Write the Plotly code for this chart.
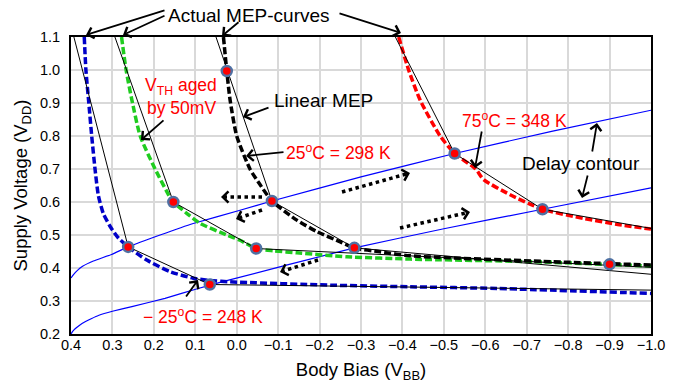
import plotly.graph_objects as go

# ---------------- data ----------------
blue_x = [0.368, 0.364, 0.357, 0.350, 0.342, 0.334, 0.322, 0.305, 0.285, 0.262, 0.217, 0.161, 0.105, 0.065, 0.016, -0.226, -0.419, -0.628, -1.0]
blue_y = [1.10, 1.00, 0.90, 0.80, 0.70, 0.62, 0.565, 0.525, 0.49, 0.464, 0.424, 0.389, 0.369, 0.362, 0.358, 0.348, 0.343, 0.338, 0.323]

green_x = [0.278, 0.267, 0.253, 0.233, 0.197, 0.161, 0.153, 0.120, 0.088, 0.024, -0.008, -0.047, -0.090, -0.145, -0.266, -0.419, -0.717, -1.0]
green_y = [1.10, 1.00, 0.909, 0.80, 0.70, 0.614, 0.600, 0.565, 0.535, 0.500, 0.484, 0.459, 0.452, 0.446, 0.434, 0.427, 0.419, 0.406]

black_x = [0.032, 0.024, 0.016, 0.0, -0.032, -0.055, -0.085, -0.145, -0.194, -0.250, -0.284, -0.346, -0.419, -0.717, -1.0]
black_y = [1.10, 0.997, 0.909, 0.80, 0.70, 0.655, 0.603, 0.545, 0.510, 0.479, 0.461, 0.449, 0.437, 0.421, 0.409]

red_x = [-0.391, -0.415, -0.443, -0.491, -0.526, -0.576, -0.596, -0.660, -0.738, -0.838, -0.920, -1.0]
red_y = [1.10, 1.00, 0.908, 0.80, 0.747, 0.701, 0.668, 0.622, 0.578, 0.550, 0.532, 0.518]

# linear MEP approximations
lin_blue_x = [0.393, 0.262, 0.065, -1.0]
lin_blue_y = [1.10, 0.464, 0.350, 0.333]
lin_green_x = [0.294, 0.153, -0.047, -1.0]
lin_green_y = [1.10, 0.600, 0.459, 0.402]
lin_black_x = [0.050, -0.085, -0.284, -1.0]
lin_black_y = [1.10, 0.603, 0.461, 0.381]
lin_red_x = [-0.383, -0.526, -0.738, -1.0]
lin_red_y = [1.10, 0.747, 0.578, 0.520]

# delay contours
delay_hi_x = [0.400, 0.394, 0.385, 0.372, 0.346, 0.302, 0.262, 0.185, 0.105, -0.008, -0.085, -0.300, -0.526, -0.760, -1.0]
delay_hi_y = [0.370, 0.380, 0.392, 0.405, 0.421, 0.441, 0.464, 0.500, 0.535, 0.575, 0.603, 0.676, 0.747, 0.814, 0.878]
delay_lo_x = [0.400, 0.396, 0.390, 0.380, 0.366, 0.350, 0.334, 0.300, 0.253, 0.173, 0.093, 0.036, -0.284, -0.500, -0.738, -1.0]
delay_lo_y = [0.200, 0.208, 0.216, 0.226, 0.237, 0.247, 0.256, 0.269, 0.283, 0.308, 0.338, 0.358, 0.461, 0.519, 0.578, 0.643]

# operating points
pt_x = [0.262, 0.065, 0.153, -0.047, -0.900, 0.024, -0.085, -0.284, -0.526, -0.738]
pt_y = [0.464, 0.350, 0.600, 0.459, 0.411, 0.997, 0.603, 0.461, 0.747, 0.578]

tick_vals_x = [0.4, 0.3, 0.2, 0.1, 0.0, -0.1, -0.2, -0.3, -0.4, -0.5, -0.6, -0.7, -0.8, -0.9, -1.0]
tick_vals_y = [0.2, 0.3, 0.4, 0.5, 0.6, 0.7, 0.8, 0.9, 1.0, 1.1]

# ---------------- layout helpers (pixel -> paper) ----------------
L, R, T, B = 71, 651, 37, 334
def PX(px):
    return (px - L) / (R - L)
def PY(py):
    return 1 - (py - T) / (B - T)

FONT = "Liberation Sans, Arial, sans-serif"
RED = "#ff0000"

fig = go.Figure()

def dashed(x, y, color):
    fig.add_trace(go.Scatter(x=x, y=y, mode="lines",
                             line=dict(color=color, width=3.5, dash="7px,3px", shape="spline", smoothing=0.6),
                             hoverinfo="skip", showlegend=False))

def thin(x, y, color="black", width=1):
    fig.add_trace(go.Scatter(x=x, y=y, mode="lines", line=dict(color=color, width=width),
                             hoverinfo="skip", showlegend=False))

def smooth(x, y, color="#0000ff", width=1.2):
    fig.add_trace(go.Scatter(x=x, y=y, mode="lines",
                             line=dict(color=color, width=width, shape="spline", smoothing=0.3),
                             hoverinfo="skip", showlegend=False))

smooth(delay_hi_x, delay_hi_y)
smooth(delay_lo_x, delay_lo_y)

dashed(blue_x, blue_y, "#0000c8")
dashed(green_x, green_y, "#1fcc1f")
dashed(black_x, black_y, "#000000")
dashed(red_x, red_y, "#ff0000")

thin(lin_blue_x, lin_blue_y)
thin(lin_green_x, lin_green_y)
thin(lin_black_x, lin_black_y)
thin(lin_red_x, lin_red_y)

fig.add_trace(go.Scatter(x=pt_x, y=pt_y, mode="markers",
                         marker=dict(color=RED, size=10, line=dict(color="#4f71a3", width=2.5)),
                         hoverinfo="skip", showlegend=False))

annotations = []

def arrow(tx, ty, hx, hy, w=1.8):
    annotations.append(dict(x=PX(hx), y=PY(hy), xref="paper", yref="paper",
                            ax=tx - hx, ay=ty - hy, axref="pixel", ayref="pixel",
                            text="", showarrow=True, arrowhead=4, arrowsize=1.2,
                            arrowwidth=w, arrowcolor="black"))

def label(cx, cy, text, color="black", size=19):
    annotations.append(dict(x=PX(cx), y=PY(cy), xref="paper", yref="paper", text=text, showarrow=False,
                            font=dict(family=FONT, size=size, color=color),
                            xanchor="center", yanchor="middle"))

# plain arrows (tail -> head)
arrow(166, 10, 86, 35)
arrow(166, 15, 123, 35)
arrow(240, 21, 222, 36)
arrow(338, 13, 401, 33)
arrow(165, 119, 141, 140)
arrow(270, 107, 243, 117)
arrow(285, 152, 246, 156)
arrow(482, 130, 475, 168)
arrow(592, 153, 597, 123)
arrow(588, 174, 582, 198)
arrow(185, 298, 198, 280)

# dotted arrows
shapes = []
dotted = [(262, 197, 221, 197), (262, 210, 236, 219), (318, 260, 280, 272),
          (342, 192, 410, 173), (400, 228, 470, 212)]
for (x0, y0, x1, y1) in dotted:
    dx, dy = x1 - x0, y1 - y0
    n = (dx * dx + dy * dy) ** 0.5
    ux, uy = dx / n, dy / n
    shapes.append(dict(type="line", xref="paper", yref="paper", x0=PX(x0), y0=PY(y0),
                       x1=PX(x1 - ux * 4), y1=PY(y1 - uy * 4),
                       line=dict(color="black", width=3.5, dash="dot")))
    annotations.append(dict(x=PX(x1), y=PY(y1), xref="paper", yref="paper",
                            ax=-ux * 6, ay=-uy * 6, axref="pixel", ayref="pixel",
                            text="", showarrow=True, arrowhead=4, arrowsize=1.0,
                            arrowwidth=2.2, arrowcolor="black"))

# labels
label(249, 16, "Actual MEP-curves", size=19)
label(181, 86, "V<sub>TH</sub> aged", RED, 17.5)
label(181, 108, "by 50mV", RED, 17.5)
label(323, 100, "Linear MEP", size=19)
label(338, 152, "25<sup>o</sup>C = 298 K", RED, 17.5)
label(514, 120, "75<sup>o</sup>C = 348 K", RED, 17.5)
label(581, 163, "Delay contour", size=19)
label(203, 316, "\u2212 25<sup>o</sup>C = 248 K", RED, 17.5)

fig.update_layout(
    width=677, height=383,
    margin=dict(l=L, r=677 - R, t=T, b=383 - B),
    paper_bgcolor="white", plot_bgcolor="white",
    font=dict(family=FONT, size=14, color="black"),
    annotations=annotations, shapes=shapes,
    showlegend=False,
)
fig.update_xaxes(range=[0.4, -1.0], tickvals=tick_vals_x, tickformat=".1f", automargin=False,
                 showgrid=True, gridcolor="#d9d9d9", gridwidth=1.5,
                 showline=True, linecolor="black", linewidth=2, mirror=True,
                 zeroline=False, ticks="", ticklabelstandoff=-3,
                 tickfont=dict(family=FONT, size=14.5),
                 title=dict(text="Body Bias (V<sub>BB</sub>)", font=dict(family=FONT, size=18.5), standoff=25))
fig.update_yaxes(range=[0.2, 1.1], tickvals=tick_vals_y, tickformat=".1f", automargin=False,
                 showgrid=True, gridcolor="#d9d9d9", gridwidth=1.5,
                 showline=True, linecolor="black", linewidth=2, mirror=True,
                 zeroline=False, ticks="", ticklabelstandoff=6,
                 tickfont=dict(family=FONT, size=14.5),
                 title=dict(text="Supply Voltage (V<sub>DD</sub>)", font=dict(family=FONT, size=18.5), standoff=7))

fig.write_html("out.html")
